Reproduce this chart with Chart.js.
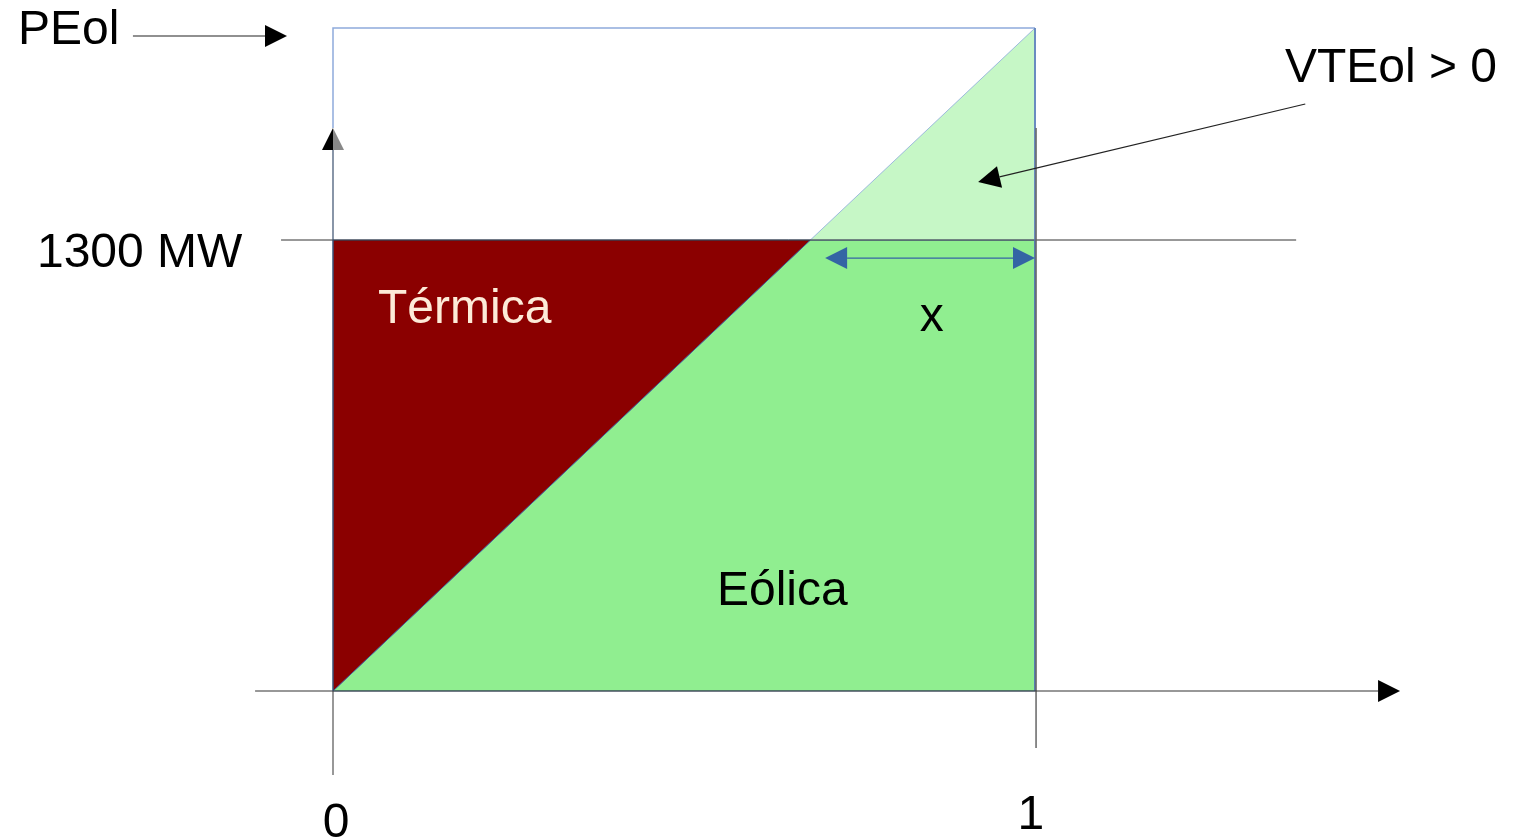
<!DOCTYPE html>
<html>
<head>
<meta charset="utf-8">
<script src="https://cdn.jsdelivr.net/npm/chart.js@4/dist/chart.umd.min.js"></script>
<style>
  html, body { margin: 0; padding: 0; background: #fff; }
  canvas { display: block; }
</style>
</head>
<body>
<canvas id="diagram" width="1522" height="840"></canvas>
<script>
// values
const xTickValues = [0, 1];
const xTickLabels = ['0', '1'];
const levelValues = [1300, 1911];          // demand, PEol (MW)
const levelLabels = ['1300 MW', 'PEol'];
const crossX = 0.68;                        // where the wind line meets 1300 MW
const areaLabels = ['Térmica', 'Eólica', 'x', 'VTEol > 0'];

const demand = levelValues[0];
const peol = levelValues[1];

const pt = (x, y) => ({ x, y });

// areas
const thermalArea = [pt(0, 0), pt(0, demand), pt(crossX, demand), pt(0, 0)];
const windArea = [pt(0, 0), pt(crossX, demand), pt(1, demand), pt(1, 0), pt(0, 0)];
const surplusArea = [pt(crossX, demand), pt(1, peol), pt(1, demand), pt(crossX, demand)];

// guide lines
const boxTop = [pt(0, 1623), pt(0, peol), pt(1, peol)];
const boxRight = [pt(1, peol), pt(1, 0)];
const demandLine = [pt(-0.074), pt(1.372)].map(p => pt(p.x, demand));
const unitLine = [pt(1.0015, 1623), pt(1.0015, -164)];
const zeroLine = [pt(0, 0), pt(0, -242)];

// arrows (data coordinates)
const arrows = [
  { from: pt(-0.111, 0), to: pt(1.52, 0), color: '#333', head: '#000', ends: 'end' },
  { from: pt(0, 0), to: pt(0, 1623), color: '#3a4f6e', head: ['#888', '#000'], ends: 'end' },
  { from: pt(-0.285, 1888), to: pt(-0.0655, 1888), color: '#222', head: '#000', ends: 'end' },
  { from: pt(1.385, 1692), to: pt(0.919, 1467), color: '#222', head: '#000', ends: 'end' },
  { from: pt(0.701, 1248), to: pt(1, 1248), color: '#3465a4', head: '#3465a4', ends: 'both' }
];

// text (data coordinates, alphabetic baseline)
const texts = [
  { text: levelLabels[1], x: -0.4487, y: 1865, align: 'left', color: '#000' },
  { text: levelLabels[0], x: -0.4217, y: 1222, align: 'left', color: '#000' },
  { text: areaLabels[0], x: 0.0641, y: 1061, align: 'left', color: '#fdebd8' },
  { text: areaLabels[1], x: 0.547, y: 248, align: 'left', color: '#000' },
  { text: areaLabels[2], x: 0.853, y: 1038, align: 'center', color: '#000' },
  { text: areaLabels[3], x: 1.356, y: 1755, align: 'left', color: '#000' },
  { text: xTickLabels[0], x: xTickValues[0] + 0.0043, y: -421, align: 'center', color: '#000' },
  { text: xTickLabels[1], x: xTickValues[1] - 0.006, y: -398, align: 'center', color: '#000' }
];

const lineSet = (data, color, width) => ({
  data, showLine: true, fill: false, borderColor: color, borderWidth: width, pointRadius: 0
});
const areaSet = (data, bg, edge) => ({
  data, showLine: true, fill: 'shape', backgroundColor: bg, borderColor: edge, borderWidth: 1, pointRadius: 0
});

const overlay = {
  id: 'overlay',
  afterDatasetsDraw(chart) {
    const { ctx, scales: { x, y } } = chart;
    const px = p => [x.getPixelForValue(p.x), y.getPixelForValue(p.y)];
    ctx.save();
    arrows.forEach(a => {
      const [x1, y1] = px(a.from);
      const [x2, y2] = px(a.to);
      const ang = Math.atan2(y2 - y1, x2 - x1);
      const len = 22, half = 11;
      const heads = a.ends === 'both' ? [[x2, y2, ang], [x1, y1, ang + Math.PI]] : [[x2, y2, ang]];
      ctx.strokeStyle = a.color;
      ctx.lineWidth = 1.2;
      ctx.beginPath();
      const sx = a.ends === 'both' ? x1 + Math.cos(ang) * len : x1;
      const sy = a.ends === 'both' ? y1 + Math.sin(ang) * len : y1;
      ctx.moveTo(sx, sy);
      ctx.lineTo(x2 - Math.cos(ang) * len, y2 - Math.sin(ang) * len);
      ctx.stroke();
      heads.forEach(([tx, ty, t]) => {
        const bx = tx - Math.cos(t) * len, by = ty - Math.sin(t) * len;
        const nx = -Math.sin(t) * half, ny = Math.cos(t) * half;
        if (Array.isArray(a.head)) {
          ctx.fillStyle = a.head[0];
          ctx.beginPath(); ctx.moveTo(tx, ty); ctx.lineTo(bx + nx, by + ny); ctx.lineTo(bx, by); ctx.closePath(); ctx.fill();
          ctx.fillStyle = a.head[1];
          ctx.beginPath(); ctx.moveTo(tx, ty); ctx.lineTo(bx - nx, by - ny); ctx.lineTo(bx, by); ctx.closePath(); ctx.fill();
        } else {
          ctx.fillStyle = a.head;
          ctx.beginPath(); ctx.moveTo(tx, ty); ctx.lineTo(bx + nx, by + ny); ctx.lineTo(bx - nx, by - ny); ctx.closePath(); ctx.fill();
        }
      });
    });
    ctx.font = '48px "Liberation Sans", Arial, sans-serif';
    ctx.textBaseline = 'alphabetic';
    texts.forEach(t => {
      const [tx, ty] = px(t);
      ctx.fillStyle = t.color;
      ctx.textAlign = t.align;
      ctx.fillText(t.text, tx, ty);
    });
    ctx.restore();
  }
};

new Chart(document.getElementById('diagram'), {
  type: 'scatter',
  data: {
    datasets: [
      lineSet(zeroLine, '#777', 1.5),
      lineSet(unitLine, '#666', 1.5),
      lineSet(boxRight, '#5a7db8', 1.5),
      lineSet(demandLine, '#333', 1),
      lineSet(boxTop, '#8eaadb', 1.5),
      areaSet(surplusArea, '#c6f7c6', 'rgba(140,170,220,0.8)'),
      areaSet(thermalArea, '#8b0000', 'rgba(60,100,165,0.8)'),
      areaSet(windArea, '#90ee90', 'rgba(60,100,165,0.8)')
    ]
  },
  options: {
    responsive: false,
    animation: false,
    layout: { padding: 0 },
    plugins: { legend: { display: false }, tooltip: { enabled: false } },
    scales: {
      x: { type: 'linear', display: false, min: -0.47436, max: 1.69373 },
      y: { type: 'linear', display: false, min: -429.5, max: 1991.8 }
    }
  },
  plugins: [overlay]
});
</script>
</body>
</html>
